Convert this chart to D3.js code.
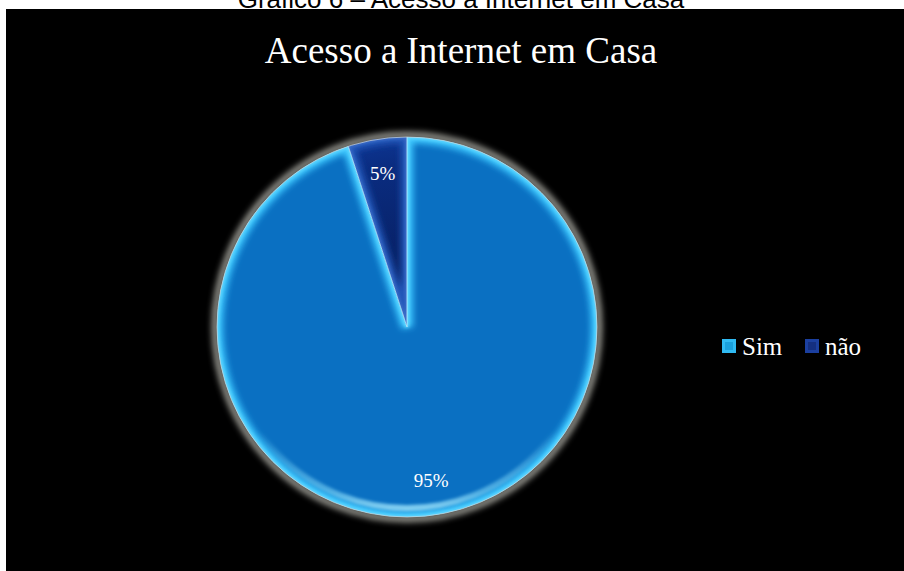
<!DOCTYPE html>
<html>
<head>
<meta charset="utf-8">
<script src="https://cdn.jsdelivr.net/npm/d3@7/dist/d3.min.js"></script>
<style>
  html, body { margin: 0; padding: 0; background: #ffffff; }
  svg { display: block; }
</style>
</head>
<body>
<svg id="chart" width="904" height="571"></svg>
<script>
// Household internet access share
const categories = ["Sim", "não"];
const values = [95, 5];
const labels = ["95%", "5%"];
const caption = "Gráfico 6 – Acesso à Internet em Casa";
const title = "Acesso a Internet em Casa";

const fills = ["#0a70c2", "#0a2c80"];
const edgeGlow = ["#3cc8ff", "#2456b8"];
const legendFills = ["#2fbaf2", "#1b3f9f"];

const W = 904, H = 571;
const svg = d3.select("#chart");
const defs = svg.append("defs");

// caption sits above the chart panel, partly hidden by it
svg.append("text")
  .attr("x", 461).attr("y", 8)
  .attr("text-anchor", "middle")
  .attr("font-family", "Liberation Sans, Arial, sans-serif")
  .attr("font-size", 26)
  .attr("fill", "#000")
  .text(caption);

// chart panel
svg.append("rect")
  .attr("x", 6).attr("y", 9)
  .attr("width", W - 6).attr("height", H - 9)
  .attr("fill", "#000");

svg.append("text")
  .attr("x", 461).attr("y", 63)
  .attr("text-anchor", "middle")
  .attr("font-family", "Liberation Serif, Times New Roman, serif")
  .attr("font-size", 37)
  .attr("fill", "#fff")
  .text(title);

// filters
const blur = (id, sd) => {
  defs.append("filter").attr("id", id)
    .attr("x", "-20%").attr("y", "-20%").attr("width", "140%").attr("height", "140%")
    .append("feGaussianBlur").attr("stdDeviation", sd);
};
blur("glow", 3.2);
blur("soft", 3);
blur("soft2", 1.6);

const cx = 407, cy = 327, r = 190;
const g = svg.append("g").attr("transform", `translate(${cx},${cy})`);

const pie = d3.pie().sort(null).value(d => d);
const arcs = pie(values);
const arc = d3.arc().innerRadius(0).outerRadius(r);
const labelArc = d3.arc().innerRadius(155).outerRadius(155);

// outer halo
g.append("circle")
  .attr("r", r + 2)
  .attr("fill", "none")
  .attr("stroke", "#a8a8a0")
  .attr("stroke-width", 6)
  .attr("filter", "url(#glow)");

// radial shading for the dark slice
const rg = defs.append("radialGradient").attr("id", "gNao")
  .attr("gradientUnits", "userSpaceOnUse")
  .attr("cx", 0).attr("cy", 0).attr("r", r);
rg.append("stop").attr("offset", "0%").attr("stop-color", "#061a55");
rg.append("stop").attr("offset", "85%").attr("stop-color", fills[1]);
rg.append("stop").attr("offset", "100%").attr("stop-color", "#0d3592");

arcs.forEach((a, i) => {
  const id = "clip" + i;
  defs.append("clipPath").attr("id", id)
    .append("path").attr("d", arc(a));
  const sg = g.append("g").attr("clip-path", `url(#${id})`);
  sg.append("path")
    .attr("d", arc(a))
    .attr("fill", i === 1 ? "url(#gNao)" : fills[i]);
  // inner bevel glow along every edge of the slice
  sg.append("path")
    .attr("d", arc(a))
    .attr("fill", "none")
    .attr("stroke", edgeGlow[i])
    .attr("stroke-width", 12)
    .attr("filter", "url(#soft)");
  sg.append("path")
    .attr("d", arc(a))
    .attr("fill", "none")
    .attr("stroke", i === 0 ? "#5fd6ff" : "#3a6cc8")
    .attr("stroke-width", 4)
    .attr("filter", "url(#soft2)");
});

// light reflection along the lower rim, fading toward the sides
const sheenGrad = defs.append("linearGradient").attr("id", "gSheen")
  .attr("gradientUnits", "userSpaceOnUse")
  .attr("x1", 0).attr("y1", r * 0.55).attr("x2", 0).attr("y2", r);
sheenGrad.append("stop").attr("offset", "0%").attr("stop-color", "#9ae8ff").attr("stop-opacity", 0);
sheenGrad.append("stop").attr("offset", "70%").attr("stop-color", "#9ae8ff").attr("stop-opacity", 0.45);
sheenGrad.append("stop").attr("offset", "100%").attr("stop-color", "#b8f0ff").attr("stop-opacity", 0.85);
defs.append("clipPath").attr("id", "clipPie")
  .append("circle").attr("r", r);
g.append("g").attr("clip-path", "url(#clipPie)")
  .append("circle")
  .attr("r", r - 9)
  .attr("fill", "none")
  .attr("stroke", "url(#gSheen)")
  .attr("stroke-width", 6)
  .attr("filter", "url(#soft2)");

// thin separators between slices
g.selectAll("line.sep")
  .data(arcs)
  .join("line")
  .attr("x1", 0).attr("y1", 0)
  .attr("x2", d => r * Math.sin(d.startAngle))
  .attr("y2", d => -r * Math.cos(d.startAngle))
  .attr("stroke", "#bfefff")
  .attr("stroke-width", 1)
  .attr("opacity", 0.8);

// thin rim line
g.append("circle")
  .attr("r", r)
  .attr("fill", "none")
  .attr("stroke", "#d0d8dc")
  .attr("stroke-width", 1)
  .attr("opacity", 0.7);

// value labels
g.selectAll("text.val")
  .data(arcs)
  .join("text")
  .attr("class", "val")
  .attr("transform", d => `translate(${labelArc.centroid(d)})`)
  .attr("text-anchor", "middle")
  .attr("dominant-baseline", "central")
  .attr("font-family", "Liberation Serif, Times New Roman, serif")
  .attr("font-size", 19)
  .attr("fill", "#fff")
  .text((d, i) => labels[i]);

// legend
const legendX = [722, 805];
const lg = svg.append("g");
categories.forEach((c, i) => {
  const item = lg.append("g").attr("transform", `translate(${legendX[i]},339)`);
  item.append("rect")
    .attr("width", 14).attr("height", 14)
    .attr("fill", legendFills[i]);
  item.append("rect")
    .attr("x", 3).attr("y", 3)
    .attr("width", 8).attr("height", 8)
    .attr("fill", i === 0 ? "#1aa0dc" : "#142f80");
  item.append("text")
    .attr("x", 20).attr("y", 16)
    .attr("font-family", "Liberation Serif, Times New Roman, serif")
    .attr("font-size", 25)
    .attr("fill", "#fff")
    .text(c);
});
</script>
</body>
</html>
